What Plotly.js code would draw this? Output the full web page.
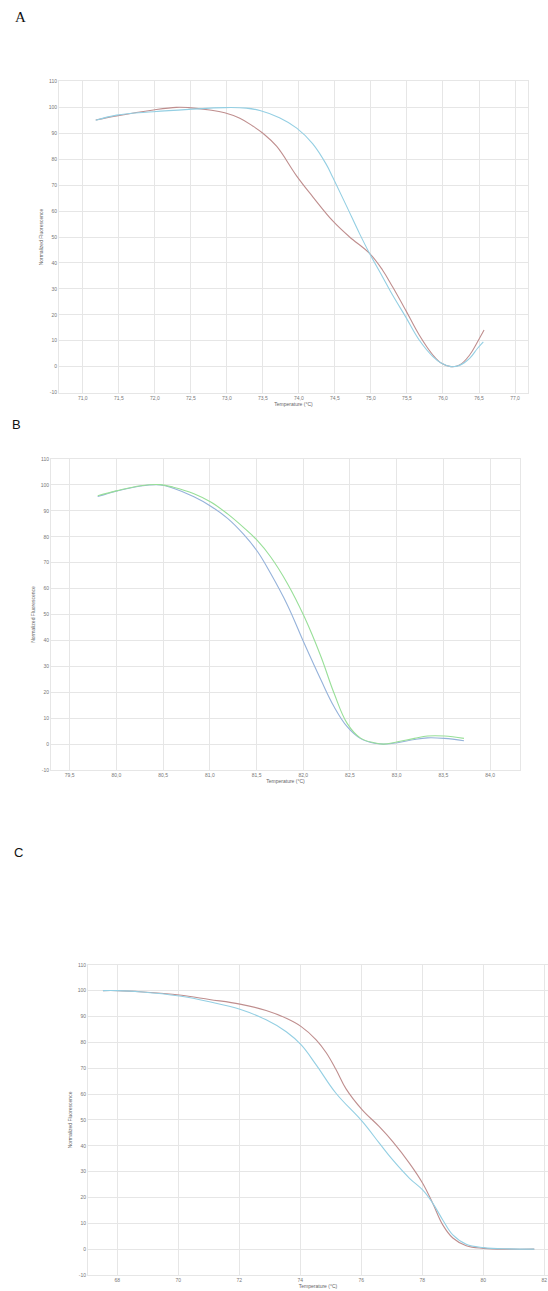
<!DOCTYPE html>
<html>
<head>
<meta charset="utf-8">
<script src="https://cdn.plot.ly/plotly-3.0.1.min.js"></script>
<style>html,body{margin:0;padding:0;background:#fff;}#chart{width:548px;height:1291px;}</style>
</head>
<body>
<div id="chart"></div>
<script>
// Panel A
const aTempRed  = [71.18,71.47,71.98,72.30,72.47,72.76,72.97,73.18,73.36,73.50,73.69,73.97,74.19,74.47,74.70,74.98,75.16,75.30,75.48,75.67,75.86,75.98,76.11,76.23,76.37,76.48,76.57];
const aRed      = [95.1,96.7,99.0,100,99.9,99.0,97.9,95.8,92.8,90.0,85.0,73.5,65.6,56.2,50.1,43.7,37.3,30.8,21.9,12.2,4.5,1.3,0,0.6,4.5,9.6,14.1];
const aTempBlue = [71.18,71.47,71.98,72.47,72.97,73.27,73.47,73.73,73.97,74.19,74.38,74.47,74.66,74.84,74.98,75.16,75.30,75.48,75.67,75.86,75.98,76.11,76.23,76.37,76.48,76.56];
const aBlue     = [95.0,97.0,98.3,99.2,99.9,99.7,98.7,96.0,92.0,86.0,78.0,73.0,62.0,51.4,43.7,34.7,27.6,19.3,10.3,3.9,1.3,0,0.5,3.2,7.1,9.6];
const aTicks    = [71.0,71.5,72.0,72.5,73.0,73.5,74.0,74.5,75.0,75.5,76.0,76.5,77.0];

// Panel B
const bTemp  = [79.80,80.01,80.26,80.47,80.61,80.83,81.01,81.19,81.36,81.51,81.65,81.83,82.01,82.19,82.33,82.47,82.61,82.76,82.86,83.01,83.19,83.33,83.51,83.72];
const bBlue  = [95.5,97.7,99.6,100,98.7,95.4,91.8,87.1,81.0,74.3,65.9,53.7,38.9,24.7,14.4,6.7,2.2,0.3,0,0.5,1.8,2.4,2.2,1.3];
const bGreen = [95.8,97.8,99.7,100.1,99.1,96.6,93.4,88.8,83.6,78.5,72.3,62.0,49.2,33.7,19.6,8.0,2.4,0.5,0,0.9,2.2,3.1,3.1,2.2];
const bTicks = [79.5,80.0,80.5,81.0,81.5,82.0,82.5,83.0,83.5,84.0];

// Panel C
const cTemp = [67.53,68.0,68.84,70.04,71.02,72.02,72.88,73.54,74.03,74.52,74.85,75.17,75.50,76.03,76.59,77.03,77.58,78.01,78.34,78.67,79.00,79.44,80.01,80.85,81.67];
const cRed  = [100,100,99.5,98.3,96.6,94.8,92.3,89.3,86.1,81.0,76.0,69.5,62.0,53.9,47.4,41.6,33.2,25.5,17.8,9.4,4.3,1.3,0.3,0,0];
const cTempBlue = [67.53,68.0,68.84,70.04,71.02,72.02,72.88,73.54,74.03,74.52,75.17,76.03,76.59,77.03,77.58,78.01,78.34,78.67,79.00,79.44,80.01,80.85,81.67];
const cBlue = [100,100,99.5,97.9,95.7,92.8,88.7,84.1,79.0,71.3,60.3,49.4,41.0,34.5,27.4,22.9,17.8,11.3,5.5,1.9,0.6,0.1,0];
const cTicks = [68,70,72,74,76,78,80,82];

const yTicks = [-10,0,10,20,30,40,50,60,70,80,90,100,110];

const W = 548, H = 1291;
const fx = p => p / W;
const fy = p => 1 - p / H;
const comma = v => v.toFixed(1).replace('.', ',');

const tickFont = {family: 'Liberation Sans, Arial, sans-serif', size: 5, color: '#777'};
const titleFont = {family: 'Liberation Sans, Arial, sans-serif', size: 5, color: '#666'};
const grid = '#e6e6e6';

function xax(d0, d1, range, ticks, labels, anchor) {
  return {
    domain: [fx(d0), fx(d1)], range: range, anchor: anchor,
    tickmode: 'array', tickvals: ticks, ticktext: labels,
    showgrid: true, gridcolor: grid, gridwidth: 1,
    showline: true, linecolor: grid, linewidth: 1, mirror: true,
    zeroline: false, ticks: '', tickfont: tickFont,
    title: {text: 'Temperature (°C)', font: titleFont, standoff: 2}
  };
}
function yax(d0, d1, anchor) {
  return {
    domain: [fy(d1), fy(d0)], range: [-10, 110], anchor: anchor,
    tickmode: 'array', tickvals: yTicks, ticktext: yTicks.map(String),
    showgrid: true, gridcolor: grid, gridwidth: 1,
    showline: true, linecolor: grid, linewidth: 1, mirror: true,
    zeroline: false, ticks: '', tickfont: tickFont,
    title: {text: 'Normalized Fluorescence', font: titleFont, standoff: 4}
  };
}

const red = '#bf8e8e', lblue = '#94cfe3', sblue = '#95b2da', green = '#98df98';
const sp = {color: null, width: 1.1, shape: 'spline', smoothing: 1.1};
const L = c => Object.assign({}, sp, {color: c});
const traces = [
  {x: aTempRed, y: aRed, xaxis: 'x', yaxis: 'y', mode: 'lines', line: L(red)},
  {x: aTempBlue, y: aBlue, xaxis: 'x', yaxis: 'y', mode: 'lines', line: L(lblue)},
  {x: bTemp, y: bBlue, xaxis: 'x2', yaxis: 'y2', mode: 'lines', line: L(sblue)},
  {x: bTemp, y: bGreen, xaxis: 'x2', yaxis: 'y2', mode: 'lines', line: L(green)},
  {x: cTemp, y: cRed, xaxis: 'x3', yaxis: 'y3', mode: 'lines', line: L(red)},
  {x: cTempBlue, y: cBlue, xaxis: 'x3', yaxis: 'y3', mode: 'lines', line: L(lblue)}
];

const layout = {
  width: W, height: H,
  margin: {l: 0, r: 0, t: 0, b: 0},
  paper_bgcolor: '#fff', plot_bgcolor: '#fff',
  showlegend: false,
  xaxis:  xax(59, 528, [70.67, 77.18], aTicks, aTicks.map(comma), 'y'),
  yaxis:  yax(81.4, 392.6, 'x'),
  xaxis2: xax(51, 520, [79.30, 84.32], bTicks, bTicks.map(comma), 'y2'),
  yaxis2: yax(459, 770, 'x2'),
  xaxis3: xax(88, 548, [67.04, 82.12], cTicks, cTicks.map(String), 'y3'),
  yaxis3: yax(964.8, 1275, 'x3'),
  annotations: [
    {text: 'A', x: fx(20), y: fy(17), xref: 'paper', yref: 'paper', showarrow: false, xanchor: 'center', yanchor: 'middle', font: {family: 'Liberation Serif, Times New Roman, serif', size: 15, color: '#111'}},
    {text: 'B', x: fx(16), y: fy(424), xref: 'paper', yref: 'paper', showarrow: false, xanchor: 'center', yanchor: 'middle', font: {family: 'Liberation Sans, Arial, sans-serif', size: 13, color: '#111'}},
    {text: 'C', x: fx(18), y: fy(852), xref: 'paper', yref: 'paper', showarrow: false, xanchor: 'center', yanchor: 'middle', font: {family: 'Liberation Sans, Arial, sans-serif', size: 13, color: '#111'}}
  ]
};

Plotly.newPlot('chart', traces, layout, {staticPlot: true, displayModeBar: false});
</script>
</body>
</html>
